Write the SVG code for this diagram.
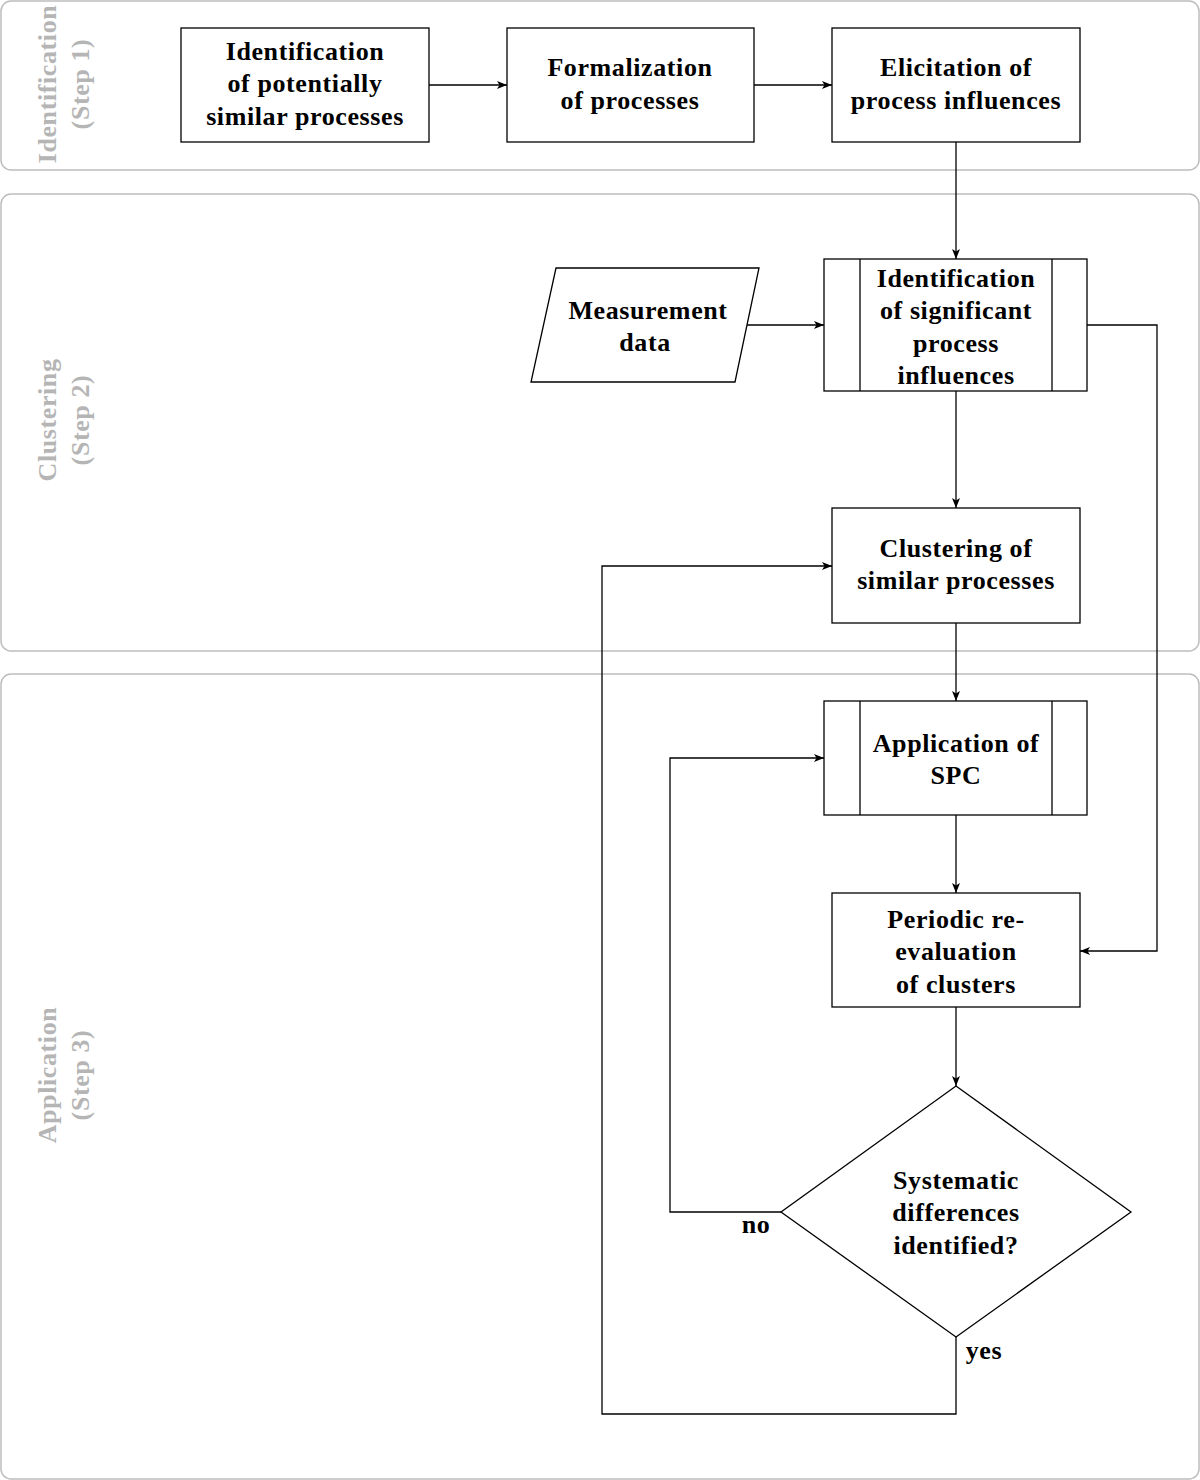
<svg xmlns="http://www.w3.org/2000/svg" width="1200" height="1480" viewBox="0 0 1200 1480">
<style>
.lane{fill:#fff;stroke:#bdbdbd;stroke-width:1.5}
.lt{font-family:"Liberation Serif","DejaVu Serif",serif;font-weight:bold;font-size:26px;letter-spacing:0.6px;fill:#b5b5b5;text-anchor:middle}
.box{fill:#fff;stroke:#000;stroke-width:1.3}
.t{font-family:"Liberation Serif","DejaVu Serif",serif;font-weight:bold;font-size:26px;letter-spacing:0.6px;fill:#000;text-anchor:middle}
.c{fill:none;stroke:#000;stroke-width:1.3}
</style>
<defs>
<marker id="ah" markerUnits="userSpaceOnUse" markerWidth="11" markerHeight="9" refX="10" refY="4.5" orient="auto">
<path d="M0,0.5 L10,4.5 L0,8.5 L2.5,4.5 Z" fill="#000"/>
</marker>
</defs>
<rect width="1200" height="1480" fill="#fff"/>
<g id="lanes">
<rect class="lane" x="1" y="1" width="1198" height="169" rx="10"/>
<rect class="lane" x="1" y="194" width="1198" height="457" rx="10"/>
<rect class="lane" x="1" y="674" width="1198" height="805" rx="10"/>
<text class="lt" transform="translate(56,84) rotate(-90)">Identification</text>
<text class="lt" transform="translate(89,84) rotate(-90)">(Step 1)</text>
<text class="lt" transform="translate(56,420) rotate(-90)">Clustering</text>
<text class="lt" transform="translate(89,420) rotate(-90)">(Step 2)</text>
<text class="lt" transform="translate(56,1075) rotate(-90)">Application</text>
<text class="lt" transform="translate(89,1075) rotate(-90)">(Step 3)</text>
</g>
<g id="connectors">
<path class="c" d="M429,85 H507" marker-end="url(#ah)"/>
<path class="c" d="M754,85 H832" marker-end="url(#ah)"/>
<path class="c" d="M956,142 V259" marker-end="url(#ah)"/>
<path class="c" d="M747,325 H824" marker-end="url(#ah)"/>
<path class="c" d="M1087,325 H1157 V951 H1080" marker-end="url(#ah)"/>
<path class="c" d="M956,391 V508" marker-end="url(#ah)"/>
<path class="c" d="M956,623 V701" marker-end="url(#ah)"/>
<path class="c" d="M956,815 V893" marker-end="url(#ah)"/>
<path class="c" d="M956,1007 V1086" marker-end="url(#ah)"/>
<path class="c" d="M781,1212 H670 V758 H824" marker-end="url(#ah)"/>
<path class="c" d="M956,1337 V1414 H602 V566 H832" marker-end="url(#ah)"/>
<text class="t" x="756" y="1233">no</text>
<text class="t" x="984" y="1359">yes</text>
</g>
<g id="n1">
<rect class="box" x="181" y="28" width="248" height="114"/>
<text class="t" x="305" y="60">Identification</text>
<text class="t" x="305" y="92">of potentially</text>
<text class="t" x="305" y="125">similar processes</text>
</g>
<g id="n2">
<rect class="box" x="507" y="28" width="247" height="114"/>
<text class="t" x="630" y="76">Formalization</text>
<text class="t" x="630" y="109">of processes</text>
</g>
<g id="n3">
<rect class="box" x="832" y="28" width="248" height="114"/>
<text class="t" x="956" y="76">Elicitation of</text>
<text class="t" x="956" y="109">process influences</text>
</g>
<g id="measurement">
<polygon class="box" points="556,268 759,268 735,382 531,382"/>
<text class="t" x="648" y="319">Measurement</text>
<text class="t" x="645" y="351">data</text>
</g>
<g id="n4">
<rect class="box" x="824" y="259" width="263" height="132"/>
<path class="c" d="M860,259 V391 M1052,259 V391"/>
<text class="t" x="956" y="287">Identification</text>
<text class="t" x="956" y="319">of significant</text>
<text class="t" x="956" y="352">process</text>
<text class="t" x="956" y="384">influences</text>
</g>
<g id="n5">
<rect class="box" x="832" y="508" width="248" height="115"/>
<text class="t" x="956" y="557">Clustering of</text>
<text class="t" x="956" y="589">similar processes</text>
</g>
<g id="n6">
<rect class="box" x="824" y="701" width="263" height="114"/>
<path class="c" d="M860,701 V815 M1052,701 V815"/>
<text class="t" x="956" y="752">Application of</text>
<text class="t" x="956" y="784">SPC</text>
</g>
<g id="n7">
<rect class="box" x="832" y="893" width="248" height="114"/>
<text class="t" x="956" y="928">Periodic re-</text>
<text class="t" x="956" y="960">evaluation</text>
<text class="t" x="956" y="993">of clusters</text>
</g>
<g id="decision">
<polygon class="box" points="956,1086 1131,1212 956,1337 781,1212"/>
<text class="t" x="956" y="1189">Systematic</text>
<text class="t" x="956" y="1221">differences</text>
<text class="t" x="956" y="1254">identified?</text>
</g>
</svg>
